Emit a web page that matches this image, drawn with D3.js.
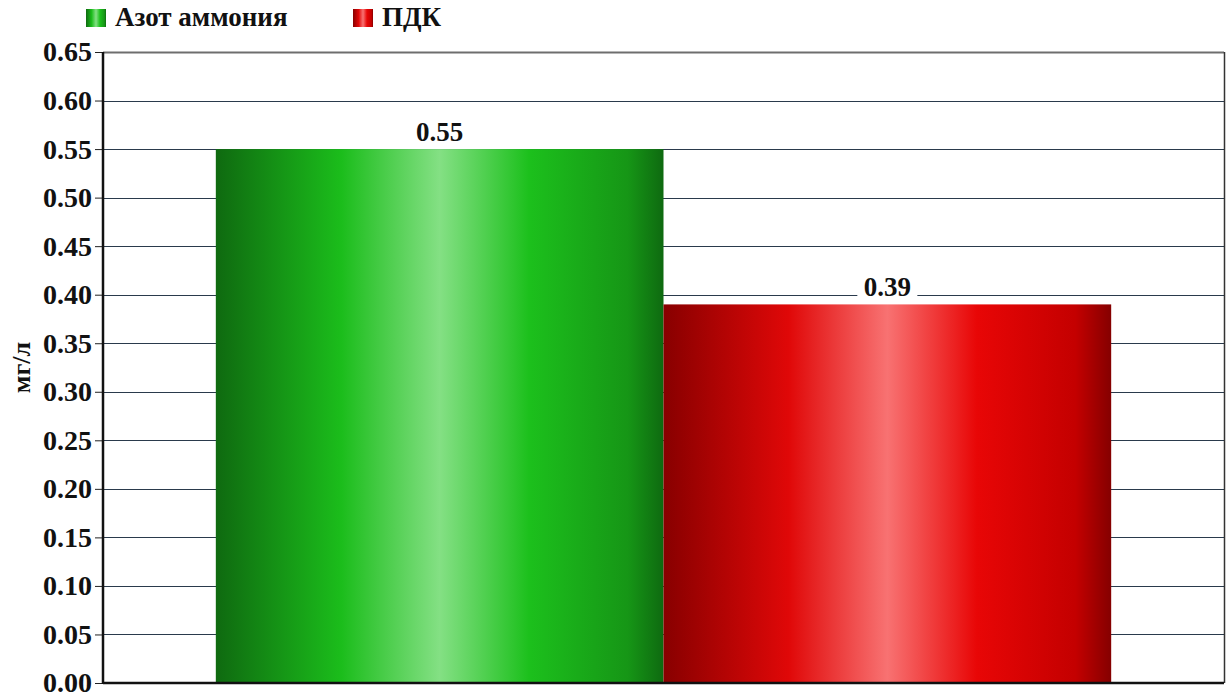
<!DOCTYPE html>
<html><head><meta charset="utf-8">
<script src="https://cdn.jsdelivr.net/npm/d3@7"></script>
<style>body{margin:0;background:#fff}svg{display:block}</style>
</head><body>
<svg id="c" width="1227" height="697"></svg>
<script>
const categories = [""];
const seriesNames = ["Азот аммония", "ПДК"];
const seriesValues = [0.55, 0.39];
const yTicks = [0,0.05,0.1,0.15,0.2,0.25,0.3,0.35,0.4,0.45,0.5,0.55,0.6,0.65];
const yTitle = "мг/л";

const W=1227,H=697;
const m={left:103,right:3,top:52,bottom:14};
const svg=d3.select("#c");
const font="'Liberation Serif','Times New Roman',serif";
const defs=svg.append("defs");
const grads=[
  {id:"g0",stops:[[0,"#0f6a10"],[0.28,"#1bbd1b"],[0.5,"#84e084"],[0.7,"#1cc01c"],[0.92,"#169616"],[1,"#0e6a10"]]},
  {id:"g1",stops:[[0,"#880000"],[0.28,"#e00808"],[0.5,"#f87272"],[0.7,"#e80606"],[0.92,"#c40000"],[1,"#850000"]]}
];
grads.forEach(g=>{
  const lg=defs.append("linearGradient").attr("id",g.id).attr("x1","0").attr("x2","1").attr("y1","0").attr("y2","0");
  g.stops.forEach(s=>lg.append("stop").attr("offset",s[0]).attr("stop-color",s[1]));
});

const x0=d3.scaleBand().domain(categories).range([m.left,W-m.right]).paddingInner(0).paddingOuter(0.126);
const x1=d3.scaleBand().domain(seriesNames).range([0,x0.bandwidth()]).padding(0);
const y=d3.scaleLinear().domain([0,0.65]).range([H-m.bottom,m.top]);

// gridlines
svg.append("g").selectAll("line").data(yTicks.filter(t=>t>0)).join("line")
  .attr("x1",m.left).attr("x2",W-m.right)
  .attr("y1",d=>Math.round(y(d))+0.5).attr("y2",d=>Math.round(y(d))+0.5)
  .attr("stroke",d=>d===0.65?"#6e6e6e":"#2a3a4c")
  .attr("stroke-width",d=>d===0.65?2:1);
// right border
svg.append("line").attr("x1",W-m.right+0.5).attr("x2",W-m.right+0.5).attr("y1",m.top).attr("y2",H-m.bottom)
  .attr("stroke","#333").attr("stroke-width",1.5);

// bars
const g=svg.append("g").attr("transform",`translate(${x0(categories[0])},0)`);
g.selectAll("rect").data(seriesValues).join("rect")
  .attr("x",(d,i)=>x1(seriesNames[i]))
  .attr("width",x1.bandwidth())
  .attr("y",d=>y(d)).attr("height",d=>y(0)-y(d))
  .attr("fill",(d,i)=>`url(#g${i})`);

// value labels
const lab=g.selectAll("g.lab").data(seriesValues).join("g").attr("class","lab")
  .attr("transform",(d,i)=>`translate(${x1(seriesNames[i])+x1.bandwidth()/2},${y(d)})`);
lab.append("rect").attr("x",-30).attr("y",-31).attr("width",60).attr("height",30).attr("fill","#fff");
lab.append("text").attr("text-anchor","middle").attr("y",-8)
  .attr("font-family",font).attr("font-weight","bold").attr("font-size",27).attr("fill","#111")
  .text(d=>d.toFixed(2));

// y axis
const ya=svg.append("g").attr("transform",`translate(${m.left},0)`)
  .call(d3.axisLeft(y).tickValues(yTicks).tickFormat(d3.format(".2f")).tickSize(8).tickPadding(3));
ya.select(".domain").remove();
ya.selectAll(".tick line").attr("stroke","#222").attr("stroke-width",1);
ya.selectAll(".tick text").attr("font-family",font).attr("font-weight","bold").attr("font-size",28).attr("fill","#111").attr("dy","0.32em");
svg.append("line").attr("x1",m.left).attr("x2",m.left).attr("y1",m.top).attr("y2",H-m.bottom+1)
  .attr("stroke","#111").attr("stroke-width",2.5);
svg.append("line").attr("x1",m.left).attr("x2",W-m.right).attr("y1",H-m.bottom).attr("y2",H-m.bottom)
  .attr("stroke","#111").attr("stroke-width",2.5);

// y title
svg.append("text").attr("transform",`translate(30,${(m.top+H-m.bottom)/2}) rotate(-90)`)
  .attr("text-anchor","middle").attr("font-family",font).attr("font-weight","bold").attr("font-size",26).attr("fill","#111")
  .text(yTitle);

// legend
const legX=[86,353];
const leg=svg.append("g").selectAll("g").data(seriesNames).join("g")
  .attr("transform",(d,i)=>`translate(${legX[i]},9)`);
leg.append("rect").attr("width",20).attr("height",18).attr("fill",(d,i)=>`url(#g${i})`);
leg.append("text").attr("x",29).attr("y",17).attr("font-family",font).attr("font-weight","bold").attr("font-size",27).attr("fill","#111").text(d=>d);
</script>
</body></html>
